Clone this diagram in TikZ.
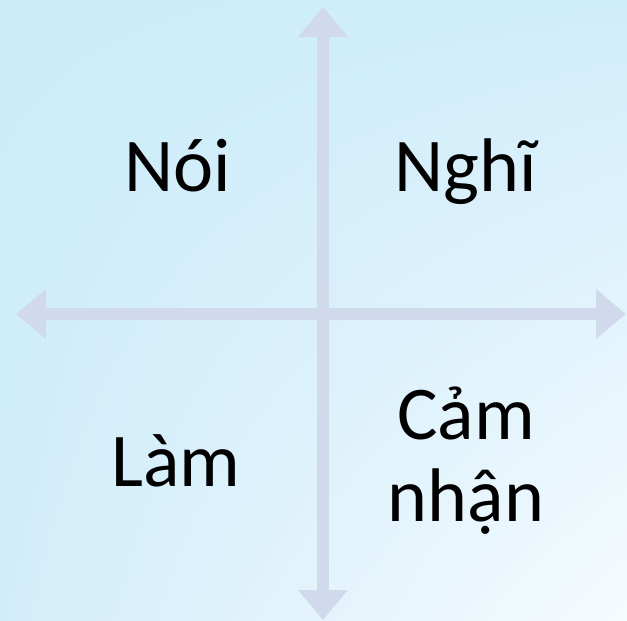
\documentclass[tikz,border=0pt]{standalone}
\usepackage{fontspec}
\setmainfont{Carlito}
\usetikzlibrary{arrows.meta,shadings}
\definecolor{bgUL}{RGB}{204,236,250}
\definecolor{bgUR}{RGB}{208,237,251}
\definecolor{bgLL}{RGB}{210,237,250}
\definecolor{bgLR}{RGB}{246,251,254}
\definecolor{axiscol}{RGB}{209,217,237}
\tikzset{
  axisline/.style={draw=axiscol, line width=12pt,
    arrows={Triangle[length=30pt,width=48pt]-Triangle[length=30pt,width=48pt]}},
  word/.style={font=\fontsize{76}{82}\selectfont, text=black, inner sep=0pt, anchor=base, align=center}
}
\begin{document}
\begin{tikzpicture}[x=1pt,y=-1pt]
\useasboundingbox (0,0) rectangle (627,621);
\shade[upper left=bgUL, upper right=bgUR, lower left=bgLL, lower right=bgLR] (0,0) rectangle (627,621);
\coordinate (top) at (323,7);
\coordinate (bottom) at (323,620);
\coordinate (left) at (16,314);
\coordinate (right) at (626,314);
\draw[axisline] (bottom) -- (top);
\draw[axisline] (left) -- (right);
\node[word] (noi) at (177.5,191) {Nói};
\node[word] (nghi) at (466,191) {Nghĩ};
\node[word] (lam) at (176,486) {Làm};
\node[word] (camnhan) at (466,521) {Cảm\\nhận};
\end{tikzpicture}
\end{document}
